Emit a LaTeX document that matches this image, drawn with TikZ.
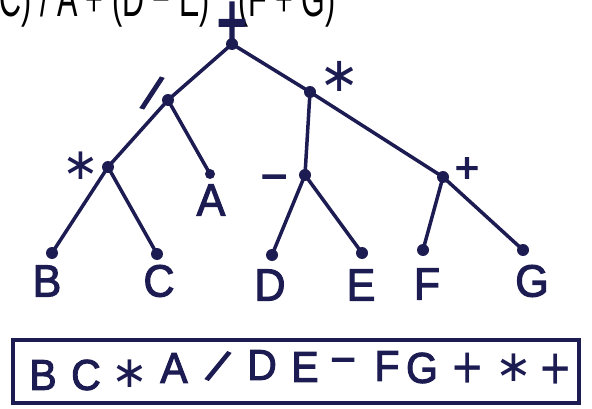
\documentclass[tikz,border=0pt]{standalone}
\usepackage{fontspec}
\usepackage{graphicx}
\setmainfont{Liberation Sans}
\newfontfamily\handf[FakeBold=2.5]{Liberation Sans}
\newfontfamily\symfont{DejaVu Sans}
\definecolor{ink}{HTML}{1C1B52}
\newcommand\vstr[2][1.05]{\scalebox{1}[#1]{#2}}
\begin{document}
\begin{tikzpicture}[x=1pt,y=-1pt,
  edge/.style={draw=ink, line width=3.5pt, line cap=round},
  dot/.style={circle, fill=ink, inner sep=0pt, minimum size=12pt},
  letter/.style={text=ink, inner sep=0pt, font=\handf\fontsize{43}{46}\selectfont},
  pletter/.style={text=ink, inner sep=0pt, font=\handf\fontsize{41}{44}\selectfont},
  oplbl/.style={text=ink, inner sep=0pt},
  astlbl/.style={text=ink, inner sep=0pt, font=\symfont\fontsize{44}{44}\selectfont},
  postbox/.style={draw=ink, line width=3.5pt, inner sep=0pt}
]
\useasboundingbox (0,0) rectangle (592,409);
\node[anchor=base west, inner sep=0pt, font=\fontsize{30.5}{34}\selectfont] (title) at (-60,17) {\vstr[1.7]{(B * C) / A + (D − E) * (F + G)}};
% tree nodes
\node[dot] (root) at (232,44) {};
\node[dot] (div) at (168,100) {};
\node[dot] (mulR) at (310,92) {};
\node[dot] (mulL) at (108,167) {};
\node[dot, minimum size=10pt] (nA) at (210,174) {};
\node[dot] (minus) at (305,175) {};
\node[dot] (plusR) at (443,177) {};
\node[dot] (nB) at (52,253) {};
\node[dot] (nC) at (157,254) {};
\node[dot] (nD) at (272,255) {};
\node[dot] (nE) at (362,253) {};
\node[dot] (nF) at (423,250) {};
\node[dot] (nG) at (523,250) {};
% edges
\draw[edge] (root.center) -- (div.center);
\draw[edge] (root.center) -- (mulR.center);
\draw[edge] (div.center) -- (mulL.center);
\draw[edge] (div.center) -- (nA.center);
\draw[edge] (mulL.center) -- (nB.center);
\draw[edge] (mulL.center) -- (nC.center);
\draw[edge] (mulR.center) -- (minus.center);
\draw[edge] (mulR.center) -- (plusR.center);
\draw[edge] (minus.center) -- (nD.center);
\draw[edge] (minus.center) -- (nE.center);
\draw[edge] (plusR.center) -- (nF.center);
\draw[edge] (plusR.center) -- (nG.center);
% operator labels
\node[oplbl, font=\handf\fontsize{52}{56}\selectfont, anchor=base] (lroot) at (232,50.5) {\vstr[1.6]{+}};
\node[oplbl, font=\handf\fontsize{48}{52}\selectfont, rotate=-18] (ldiv) at (152,93) {/};
\node[astlbl] (lmulL) at (81,166) {∗};
\node[astlbl, font=\symfont\fontsize{48}{48}\selectfont] (lmulR) at (340,76) {∗};
\node[oplbl, font=\handf\fontsize{46}{50}\selectfont, anchor=base] (lminus) at (274,192) {−};
\node[oplbl, font=\handf\fontsize{42}{46}\selectfont, anchor=base] (lplus) at (467,182) {+};
% leaf labels
\node[letter] (lB) at (47,281) {\vstr{B}};
\node[letter] (lC) at (159,281) {\vstr{C}};
\node[letter] (lA) at (211,200) {\vstr{A}};
\node[letter] (lD) at (270,285) {\vstr{D}};
\node[letter] (lE) at (361,285) {\vstr{E}};
\node[letter] (lF) at (427,284) {\vstr{F}};
\node[letter] (lG) at (532,281) {\vstr{G}};
% postfix box
\node[postbox, minimum width=566pt, minimum height=63pt] (post) at (296,371.5) {};
\node[pletter] (p1) at (43,375) {\vstr{B}};
\node[pletter] (p2) at (86,375) {\vstr{C}};
\node[astlbl] (p3) at (130,374) {∗};
\node[pletter] (p4) at (174,368) {\vstr{A}};
\node[oplbl, font=\handf\fontsize{46}{50}\selectfont, rotate=-24] (p5) at (218,366) {/};
\node[pletter] (p6) at (262,365) {\vstr{D}};
\node[pletter] (p7) at (305,367) {\vstr{E}};
\node[oplbl, font=\handf\fontsize{44}{48}\selectfont, anchor=base] (p8) at (343,374.5) {−};
\node[pletter] (p9) at (387,366) {\vstr{F}};
\node[pletter] (p10) at (422,368) {\vstr{G}};
\node[oplbl, font=\fontsize{52}{56}\selectfont, anchor=base] (p11) at (468,388) {\vstr[1.18]{+}};
\node[astlbl] (p12) at (514,368) {∗};
\node[oplbl, font=\fontsize{52}{56}\selectfont, anchor=base] (p13) at (556,389) {\vstr[1.18]{+}};
\end{tikzpicture}
\end{document}
